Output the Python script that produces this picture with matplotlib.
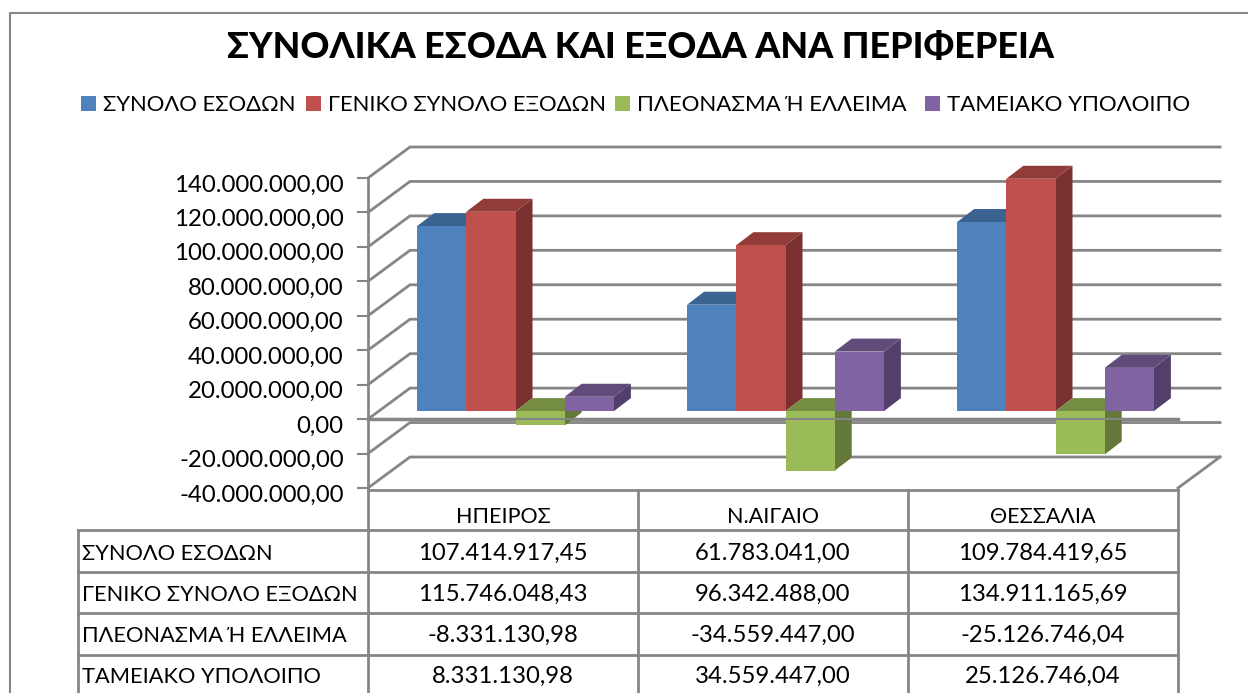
import numpy as np
import matplotlib
matplotlib.use("Agg")
import matplotlib.pyplot as plt
from matplotlib.patches import Polygon
from matplotlib.transforms import ScaledTranslation

plt.rcParams["font.family"] = ["Lato", "Noto Sans", "DejaVu Sans"]

# -----------------------------
# Data
# -----------------------------
title = "ΣΥΝΟΛΙΚΑ ΕΣΟΔΑ ΚΑΙ ΕΞΟΔΑ ΑΝΑ ΠΕΡΙΦΕΡΕΙΑ"
regions = ["ΗΠΕΙΡΟΣ", "Ν.ΑΙΓΑΙΟ", "ΘΕΣΣΑΛΙΑ"]
series_names = ["ΣΥΝΟΛΟ ΕΣΟΔΩΝ", "ΓΕΝΙΚΟ ΣΥΝΟΛΟ ΕΞΟΔΩΝ", "ΠΛΕΟΝΑΣΜΑ Ή ΕΛΛΕΙΜΑ", "ΤΑΜΕΙΑΚΟ ΥΠΟΛΟΙΠΟ"]
esoda = [107414917.45, 61783041.00, 109784419.65]
exoda = [115746048.43, 96342488.00, 134911165.69]
pleonasma = [-8331130.98, -34559447.00, -25126746.04]
tameiako = [8331130.98, 34559447.00, 25126746.04]
y_ticks = [-40000000, -20000000, 0, 20000000, 40000000, 60000000, 80000000, 100000000, 120000000, 140000000]

series = [esoda, exoda, pleonasma, tameiako]
front = ["#4F81BD", "#C0504D", "#9BBB59", "#8064A2"]
top = ["#3B6391", "#923C3A", "#748D43", "#614B7B"]
side = ["#2F4F75", "#7A302E", "#64783A", "#523F6B"]
grid = "#868686"


def gr(v):
    # greek number format: 1.234.567,89
    return f"{v:,.2f}".replace(",", "#").replace(".", ",").replace("#", ".")


W, H = 1248, 693
fig = plt.figure(figsize=(W / 100, H / 100), dpi=100)

# overlay in pixels for frame, title, legend, table lines
bg = fig.add_axes([0, 0, 1, 1])
bg.set_xlim(0, W)
bg.set_ylim(H, 0)
bg.axis("off")

# chart axes = front plane of the 3d box
L, R, T, B = 368, 1178, 178, 488
ax = fig.add_axes([L / W, 1 - B / H, (R - L) / W, (B - T) / H])
ax.set_xlim(0, 3)
ax.set_ylim(-40000000, 140000000)
ax.patch.set_alpha(0)
for s in ax.spines.values():
    s.set_visible(False)
ax.set_xticks([])
ax.set_yticks(y_ticks)
ax.set_yticklabels([gr(v) for v in y_ticks], fontsize=17.3)
ax.tick_params(axis="y", length=8, width=1.5, color=grid, pad=9.5)
for lab in ax.get_yticklabels():
    lab.set_transform(lab.get_transform() + ScaledTranslation(0, -3.5 / 72, fig.dpi_scale_trans))

px = 3 / (R - L)
pv = 180000000 / (B - T)
wall_dx, wall_dy = 42 * px, 31 * pv   # depth of the back wall
bar_dx, bar_dy = 17 * px, 13 * pv     # depth of a bar
off_x, off_y = 12.5 * px, 8 * pv      # bar plane sits inside the box
bar_w = 49.2 * px

# walls
for v in y_ticks:
    ax.plot([0, wall_dx, 3 + wall_dx], [v, v + wall_dy, v + wall_dy], color=grid, lw=2,
            clip_on=False, zorder=1, solid_joinstyle="miter")
ax.plot([0, 0], [-40000000, 140000000], color=grid, lw=2, clip_on=False, zorder=1)
ax.plot([3, 3 + wall_dx], [-40000000, -40000000 + wall_dy], color=grid, lw=2, clip_on=False, zorder=1)
ax.plot([0, 3], [0, 0], color=grid, lw=2.5, clip_on=False, zorder=1)

# bars
for g in range(3):
    for i in [0, 1, 2, 3]:
        v = series[i][g]
        x0 = g + 0.5 + off_x + (i - 2) * bar_w
        x1 = x0 + bar_w
        y0 = off_y
        y1 = v + off_y
        hi = max(y0, y1)
        ax.add_patch(Polygon([(x1, y0), (x1 + bar_dx, y0 + bar_dy), (x1 + bar_dx, y1 + bar_dy), (x1, y1)],
                             fc=side[i], ec="none", zorder=3 + i * 0.1, clip_on=False))
        ax.add_patch(Polygon([(x0, hi), (x0 + bar_dx, hi + bar_dy), (x1 + bar_dx, hi + bar_dy), (x1, hi)],
                             fc=top[i], ec="none", zorder=3 + i * 0.1, clip_on=False))
        ax.add_patch(Polygon([(x0, y0), (x1, y0), (x1, y1), (x0, y1)],
                             fc=front[i], ec="none", zorder=3 + i * 0.1 + 0.01, clip_on=False))

# zero line passes over the green bars
ax.plot([0, 3], [0, 0], color=grid, lw=1.5, clip_on=False, zorder=4)

# frame
bg.plot([10, 10, W], [H, 13, 13], color=grid, lw=1.5)

bg.text(640.5, 58, title, ha="center", va="baseline", fontsize=25.8, fontweight="black", color="black")

# legend
leg_x = [81, 306, 615, 925]
for x, name, c in zip(leg_x, series_names, front):
    bg.add_patch(plt.Rectangle((x, 96), 15, 15, fc=c, ec="none"))
    bg.text(x + 22, 111, name, ha="left", va="baseline", fontsize=16 if c == front[2] or c == front[3] else 15.8)

# table
cols = [368, 638, 908, 1178]
rows = [530, 572, 613, 655]
baselines = [560, 601, 642, 683]
bg.plot([L, R], [490, 490], color=grid, lw=2)
for x in cols:
    bg.plot([x, x], [490, H], color=grid, lw=2)
bg.plot([78, 78], [530, H], color=grid, lw=2)
for y in rows:
    bg.plot([78, R], [y, y], color=grid, lw=2)

for c, region in enumerate(regions):
    bg.text((cols[c] + cols[c + 1]) / 2, 523, region, ha="center", va="baseline", fontsize=15.5)
for r, name in enumerate(series_names):
    bg.text(82, baselines[r], name, ha="left", va="baseline", fontsize=15.7)
    for c in range(3):
        bg.text((cols[c] + cols[c + 1]) / 2, baselines[r], gr(series[r][c]), ha="center", va="baseline", fontsize=17.2)

fig.savefig("out.png", dpi=100)
